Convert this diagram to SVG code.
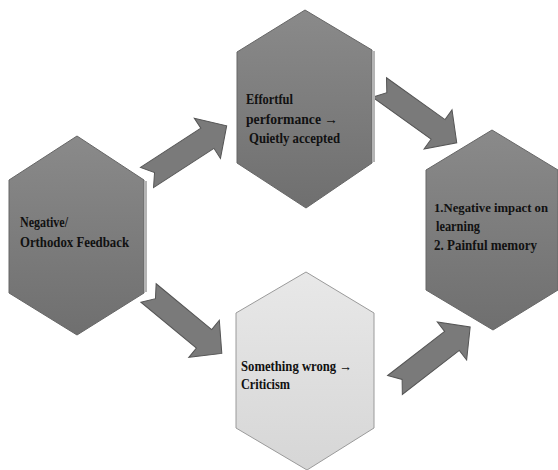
<svg xmlns="http://www.w3.org/2000/svg" width="558" height="470" viewBox="0 0 558 470">
  <defs>
    <linearGradient id="gDark" x1="0" y1="0" x2="0" y2="1">
      <stop offset="0" stop-color="#8a8a8a"/>
      <stop offset="1" stop-color="#6f6f6f"/>
    </linearGradient>
    <linearGradient id="gLight" x1="0" y1="0" x2="0" y2="1">
      <stop offset="0" stop-color="#e8e8e8"/>
      <stop offset="1" stop-color="#d6d6d6"/>
    </linearGradient>
    <path id="arr" d="M0,-12 L72,-12 L72,-24 L95,0 L72,24 L72,12 L0,12 L9,0 Z"/>
  </defs>
  <style>
    .hex { fill: url(#gDark); stroke: #666; stroke-width: 1; }
    .hexL { fill: url(#gLight); stroke: #9a9a9a; stroke-width: 1; }
    .edge { fill: none; stroke: #b4b4b4; stroke-width: 3; }
    .lbl { font-family: "Liberation Serif", "Times New Roman", serif; font-weight: bold; font-size: 14.5px; fill: #111; }
    .sm { font-size: 13.3px; }
    .arrow { fill: #7a7a7a; stroke: #555; stroke-width: 1; stroke-linejoin: miter; }
  </style>

  <g id="connectors">
    <use href="#arr" class="arrow" transform="translate(147,177.5) rotate(-33)"/>
    <use href="#arr" class="arrow" transform="translate(379.5,87.5) rotate(35.6)"/>
    <use href="#arr" class="arrow" transform="translate(148.5,293) rotate(39.5)"/>
    <use href="#arr" class="arrow" transform="translate(395,385) rotate(-37.7)"/>
  </g>

  <g id="node-feedback">
    <polygon class="hex" points="77,136 144,180 144,293 77,335 9,293 9,180"/>
    <line class="edge" x1="145.5" y1="181" x2="145.5" y2="292"/>
    <text class="lbl" x="20" y="227" textLength="48" lengthAdjust="spacingAndGlyphs">Negative/</text>
    <text class="lbl" x="20" y="247" textLength="109" lengthAdjust="spacingAndGlyphs">Orthodox  Feedback</text>
  </g>

  <g id="node-effortful">
    <polygon class="hex" points="305,10 372,50 372,163 306,208 237,163 237,52"/>
    <line class="edge" x1="373.5" y1="51" x2="373.5" y2="162"/>
    <text class="lbl" x="246" y="104" textLength="47" lengthAdjust="spacingAndGlyphs">Effortful</text>
    <text class="lbl" x="246" y="124" textLength="92" lengthAdjust="spacingAndGlyphs">performance →</text>
    <text class="lbl" x="249" y="143" textLength="91" lengthAdjust="spacingAndGlyphs">Quietly  accepted</text>
  </g>

  <g id="node-impact">
    <polygon class="hex" points="492,130 558,170 558,290 493,330 426,290 426,170"/>
    <text class="lbl sm" x="434" y="212" textLength="114" lengthAdjust="spacingAndGlyphs">1.Negative impact on</text>
    <text class="lbl" x="436" y="231" textLength="44" lengthAdjust="spacingAndGlyphs">learning</text>
    <text class="lbl" x="434" y="250" textLength="103" lengthAdjust="spacingAndGlyphs">2. Painful  memory</text>
  </g>

  <g id="node-wrong">
    <polygon class="hexL" points="306,272 374,313 374,428 307,470 236,428 236,313"/>
    <text class="lbl" x="241" y="371" textLength="111" lengthAdjust="spacingAndGlyphs">Something wrong →</text>
    <text class="lbl" x="241" y="389" textLength="49" lengthAdjust="spacingAndGlyphs">Criticism</text>
  </g>
</svg>
